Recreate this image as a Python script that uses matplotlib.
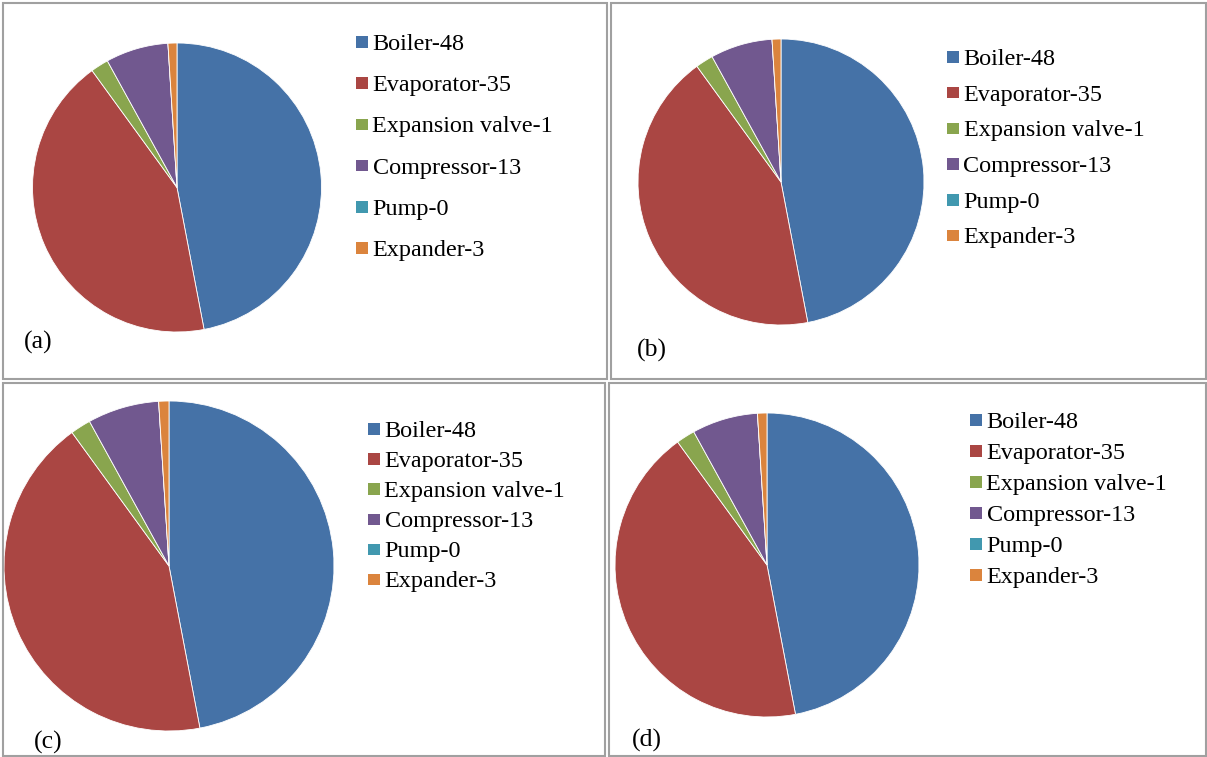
import matplotlib
matplotlib.use("Agg")
import matplotlib.pyplot as plt
from matplotlib.patches import Rectangle

# components and their shares (same for all four cases)
components = ["Boiler-48", "Evaporator-35", "Expansion valve-1",
              "Compressor-13", "Pump-0", "Expander-3"]
shares_a = [47, 43, 2, 7, 0, 1]
shares_b = [47, 43, 2, 7, 0, 1]
shares_c = [47, 43, 2, 7, 0, 1]
shares_d = [47, 43, 2, 7, 0, 1]
panel_tags = ["(a)", "(b)", "(c)", "(d)"]

colors = ["#4572A7", "#AA4643", "#89A54E", "#71588F", "#4198AF", "#DB843D"]

W, H = 1207, 757
plt.rcParams["font.family"] = "serif"
plt.rcParams["font.serif"] = ["Liberation Serif", "DejaVu Serif"]
SERIF = "Liberation Serif"

fig = plt.figure(figsize=(W / 100, H / 100), dpi=100)


def fx(x):
    return x / W


def fy(y):
    return 1 - y / H


# cell frames (pixel boxes: left, top, right, bottom)
cells = [(3, 3, 607, 379), (611, 3, 1206, 379),
         (3, 383, 605, 756), (609, 383, 1206, 756)]
for l, t, r, b in cells:
    fig.patches.append(Rectangle((fx(l), fy(b)), fx(r) - fx(l), fy(t) - fy(b),
                                 transform=fig.transFigure, fill=False,
                                 edgecolor="#a0a0a0", linewidth=1.5))

# pie centre/radius, legend x (square), first row y, row pitch, tag position
layout = [
    dict(data=shares_a, c=(177, 187.5), r=144.5, lx=356, ly=42, dy=41.2, tag=(24, 340)),
    dict(data=shares_b, c=(781, 182), r=143, lx=947, ly=57, dy=35.7, tag=(637, 348)),
    dict(data=shares_c, c=(169, 566), r=165, lx=368, ly=429, dy=30.1, tag=(34, 740)),
    dict(data=shares_d, c=(767, 565), r=152, lx=970, ly=420, dy=31.0, tag=(632, 738)),
]

sq = 11.5  # legend square size in px

for i, p in enumerate(layout):
    cx, cy = p["c"]
    r = p["r"]
    ax = fig.add_axes([fx(cx - r), fy(cy + r), 2 * r / W, 2 * r / H])
    wedges, _ = ax.pie(p["data"], colors=colors, startangle=90, counterclock=False,
                       radius=1, wedgeprops=dict(edgecolor="white", linewidth=0.6))
    ax.set_xlim(-1, 1)
    ax.set_ylim(-1, 1)
    ax.set_aspect("equal")
    ax.axis("off")

    # legend entries
    for k, (w, name) in enumerate(zip(wedges, components)):
        y = p["ly"] + k * p["dy"]
        fig.patches.append(Rectangle((fx(p["lx"]), fy(y + sq / 2)), sq / W, sq / H,
                                     transform=fig.transFigure,
                                     facecolor=w.get_facecolor(), edgecolor="none"))
        fig.text(fx(p["lx"] + sq + 5), fy(y), name, fontsize=17.4, family=SERIF,
                 va="center_baseline", ha="left", color="black")

    fig.text(fx(p["tag"][0]), fy(p["tag"][1]), panel_tags[i], fontsize=18.5,
             family=SERIF, va="center_baseline", ha="left", color="black")

fig.savefig("out.png", dpi=100)
